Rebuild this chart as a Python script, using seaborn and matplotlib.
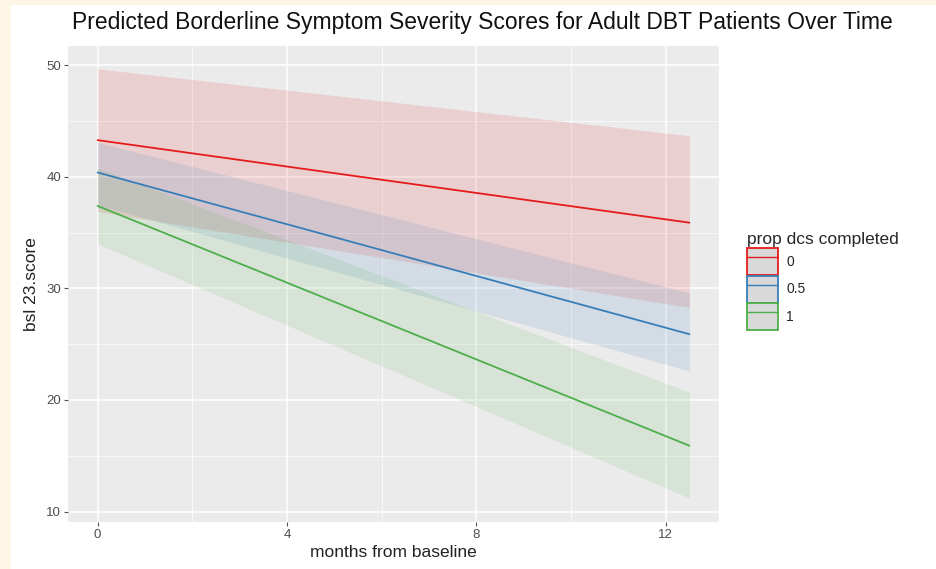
import numpy as np
import pandas as pd
import seaborn as sns
import matplotlib
matplotlib.use('Agg')
import matplotlib.pyplot as plt
from matplotlib.patches import Patch, Rectangle
from matplotlib.lines import Line2D

# predicted values
months = [0, 12.5]
groups = ['0', '0.5', '1']
fit_0 = [43.3, 35.9]
lo_0 = [36.9, 28.3]
hi_0 = [49.7, 43.7]
fit_05 = [40.4, 25.9]
lo_05 = [37.5, 22.6]
hi_05 = [43.1, 29.6]
fit_1 = [37.4, 15.9]
lo_1 = [34.0, 11.2]
hi_1 = [40.8, 20.7]
colors = ['#E41A1C', '#377EB8', '#4DAF4A']

sns.set_theme(style='darkgrid', rc={
    'axes.facecolor': '#EBEBEB',
    'grid.color': 'white',
    'axes.edgecolor': 'none',
})
plt.rcParams['font.family'] = ['Liberation Sans', 'DejaVu Sans']

df = pd.DataFrame({
    'months': months * 3,
    'score': fit_0 + fit_05 + fit_1,
    'group': [g for g in groups for _ in months],
})
bands = {'0': (lo_0, hi_0), '0.5': (lo_05, hi_05), '1': (lo_1, hi_1)}

fig = plt.figure(figsize=(9.37, 5.69), dpi=100, facecolor='white')
cream = '#FDF5E6'
fig.patches.append(Rectangle((0, 0), 11 / 937, 1, transform=fig.transFigure,
                             facecolor=cream, edgecolor='none'))
fig.patches.append(Rectangle((0, 1 - 5 / 569), 1, 5 / 569, transform=fig.transFigure,
                             facecolor=cream, edgecolor='none'))
ax = fig.add_axes([68 / 937, 1 - 522 / 569, (719 - 68) / 937, (522 - 46) / 569])

for g, c in zip(groups, colors):
    lo, hi = bands[g]
    ax.fill_between(months, lo, hi, color=c, alpha=0.13, linewidth=0, zorder=2)

sns.lineplot(data=df, x='months', y='score', hue='group', palette=colors,
             linewidth=1.3, ax=ax, legend=False, zorder=3)

ax.set_xlim(-0.625, 13.125)
ax.set_ylim(9.06, 51.74)
ax.set_xticks([0, 4, 8, 12])
ax.set_yticks([10, 20, 30, 40, 50])
ax.set_xticks([2, 6, 10], minor=True)
ax.set_yticks([15, 25, 35, 45], minor=True)
ax.grid(which='major', color='white', linewidth=1.1)
ax.grid(which='minor', color='white', linewidth=0.5)
ax.tick_params(which='major', length=3, width=0.8, color='#555555',
               labelsize=9.5, labelcolor='#4D4D4D', pad=2, left=True, bottom=True)
ax.tick_params(which='minor', length=0)
for s in ax.spines.values():
    s.set_visible(False)

ax.set_xlabel('months from baseline', fontsize=12.5, color='#222222', labelpad=3)
ax.set_ylabel('bsl 23.score', fontsize=12.5, color='#222222', labelpad=5)
fig.text(72 / 937, 1 - 22 / 569, 'Predicted Borderline Symptom Severity Scores for Adult DBT Patients Over Time',
         fontsize=16.5, color='#111111', ha='left', va='center')

handles = [(Patch(facecolor='#D9D9D9', edgecolor=c, linewidth=1.3),
            Line2D([], [], color=c, linewidth=1.0)) for c in colors]
leg = ax.legend(handles, groups, title='prop dcs completed', loc='upper left',
                bbox_to_anchor=(1.035, 0.62), frameon=False, fontsize=10,
                title_fontsize=12.5, handlelength=2.2, handleheight=2.6,
                labelspacing=0.05, handletextpad=0.6, borderaxespad=0)
leg._legend_box.align = 'left'

fig.savefig('out.png', dpi=100)
